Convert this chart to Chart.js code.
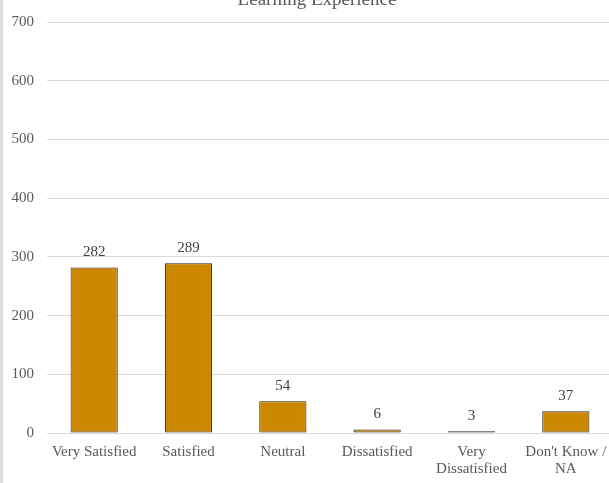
<!DOCTYPE html>
<html>
<head>
<meta charset="utf-8">
<script src="https://cdn.jsdelivr.net/npm/chart.js@4"></script>
<style>
  html, body { margin: 0; padding: 0; background: #fff; }
  #clip { width: 609px; height: 483px; overflow: hidden; position: relative; }
  #wrap { position: relative; width: 613px; height: 483px; }
</style>
</head>
<body>
<div id="clip"><div id="wrap"><canvas id="chart"></canvas></div></div>
<script>
const categories = ['Very Satisfied', 'Satisfied', 'Neutral', 'Dissatisfied', ['Very', 'Dissatisfied'], ["Don't Know /", 'NA']];
const counts = [282, 289, 54, 6, 3, 37];
const chartTitle = 'Learning Experience';

const font = '"Liberation Serif", "Times New Roman", serif';

// title sits partly off the top edge, plus the grey strip on the left
const extras = {
    id: 'extras',
    beforeDraw(chart) {
        const c = chart.ctx;
        c.save();
        c.fillStyle = '#dedede';
        c.fillRect(0, 0, 3, chart.height);
        c.restore();
    },
    afterDatasetsDraw(chart) {
        const c = chart.ctx;
        c.save();
        c.font = '19px ' + font;
        c.fillStyle = '#595959';
        c.textAlign = 'center';
        c.textBaseline = 'alphabetic';
        c.fillText(chartTitle, 317, 5);

        c.font = '15px ' + font;
        c.fillStyle = '#404040';
        c.textBaseline = 'middle';
        const meta = chart.getDatasetMeta(0);
        meta.data.forEach((bar, i) => {
            c.fillText(String(counts[i]), bar.x, bar.y - 15);
        });
        c.restore();
    }
};

new Chart(document.getElementById('chart'), {
    type: 'bar',
    data: {
        labels: categories,
        datasets: [{
            data: counts,
            backgroundColor: '#CC8800',
            borderColor: '#262626',
            borderWidth: 1,
            borderSkipped: false,
            barPercentage: 0.5,
            categoryPercentage: 1
        }]
    },
    options: {
        responsive: true,
        maintainAspectRatio: false,
        animation: false,
        layout: { padding: { top: 17, right: 0, left: 0, bottom: 0 } },
        plugins: {
            legend: { display: false },
            tooltip: { enabled: false },
            title: { display: false }
        },
        scales: {
            x: {
                grid: { display: false, drawTicks: false },
                border: { display: true, color: '#d9d9d9', width: 1 },
                ticks: {
                    color: '#595959',
                    font: { family: font, size: 15, lineHeight: 1.13 },
                    padding: 11,
                    maxRotation: 0,
                    autoSkip: false
                },
                afterFit(scale) {
                    scale.height = 50;
                    scale.paddingRight = 0;
                    scale.paddingLeft = 0;
                }
            },
            y: {
                min: 0,
                max: 700,
                grid: { color: '#d9d9d9', drawTicks: false },
                border: { display: false },
                ticks: {
                    stepSize: 100,
                    color: '#595959',
                    font: { family: font, size: 15 },
                    padding: 13
                },
                afterFit(scale) { scale.width = 47; }
            }
        }
    },
    plugins: [extras]
});
</script>
</body>
</html>
